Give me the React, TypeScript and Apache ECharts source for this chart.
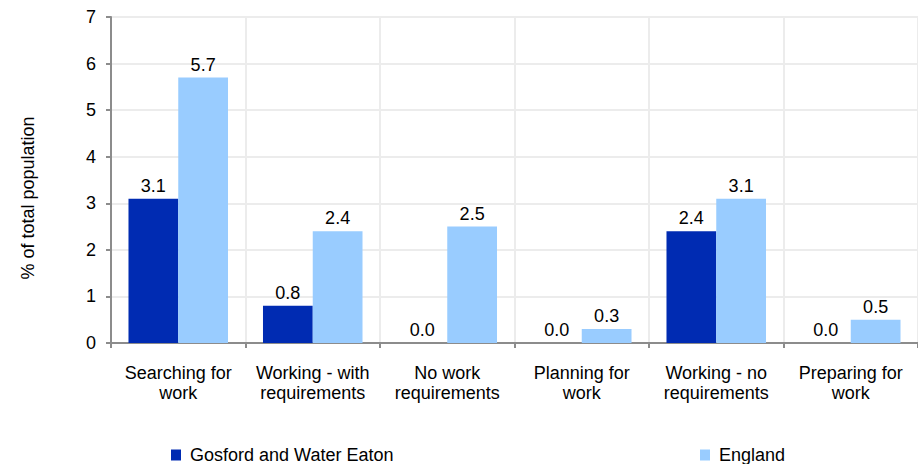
import React, { useEffect, useRef } from "react";
import * as echarts from "echarts";

const categories = [
  "Searching for\nwork",
  "Working - with\nrequirements",
  "No work\nrequirements",
  "Planning for\nwork",
  "Working - no\nrequirements",
  "Preparing for\nwork",
];
const gosford = [3.1, 0.8, 0.0, 0.0, 2.4, 0.0];
const england = [5.7, 2.4, 2.5, 0.3, 3.1, 0.5];
const seriesNames = ["Gosford and Water Eaton", "England"];
const yTicks = [0, 1, 2, 3, 4, 5, 6, 7];

const FONT = "Liberation Sans, Arial, sans-serif";
const FS = 18;

export default function App() {
  const ref = useRef<HTMLDivElement>(null);
  useEffect(() => {
    if (!ref.current) return;
    const chart = echarts.init(ref.current, undefined, { renderer: "svg" });
    const labelCfg = {
      show: true,
      position: "top",
      distance: 4,
      fontSize: FS,
      color: "#000",
      fontFamily: FONT,
      formatter: (p: any) => Number(p.value).toFixed(1),
    };
    const legendText = {
      fontSize: FS,
      color: "#000",
      fontFamily: FONT,
      padding: [0, 0, 0, 4],
    };
    chart.setOption({
      animation: false,
      textStyle: { fontFamily: FONT },
      grid: { left: 111, top: 17, width: 814, height: 326, containLabel: false },
      legend: [
        {
          data: [seriesNames[0]],
          left: 171,
          top: 446,
          padding: 0,
          itemWidth: 10,
          itemHeight: 11,
          textStyle: legendText,
          icon: "rect",
        },
        {
          data: [seriesNames[1]],
          left: 700,
          top: 446,
          padding: 0,
          itemWidth: 10,
          itemHeight: 11,
          textStyle: legendText,
          icon: "rect",
        },
      ],
      xAxis: {
        type: "category",
        data: categories,
        axisLine: { lineStyle: { color: "#8c8c8c", width: 2 } },
        axisTick: { show: true, length: 5, lineStyle: { color: "#8c8c8c", width: 2 } },
        splitLine: { show: true, lineStyle: { color: "#ececec", width: 2 } },
        axisLabel: {
          fontSize: FS,
          color: "#000",
          fontFamily: FONT,
          lineHeight: 20,
          margin: 20,
          interval: 0,
        },
      },
      yAxis: {
        type: "value",
        min: yTicks[0],
        max: yTicks[yTicks.length - 1],
        interval: 1,
        name: "% of total population",
        nameLocation: "middle",
        nameGap: 74,
        nameRotate: 90,
        nameTextStyle: {
          fontSize: FS,
          color: "#000",
          fontFamily: FONT,
          padding: [0, 36, 0, 0],
        },
        axisLine: { show: true, lineStyle: { color: "#8c8c8c", width: 2 } },
        axisTick: { show: true, length: 5, lineStyle: { color: "#8c8c8c", width: 2 } },
        splitLine: { show: true, lineStyle: { color: "#ececec", width: 2 } },
        axisLabel: { fontSize: FS, color: "#000", fontFamily: FONT, margin: 15 },
      },
      series: [
        {
          name: seriesNames[0],
          type: "bar",
          data: gosford,
          itemStyle: { color: "#002BB2" },
          barGap: "0%",
          barCategoryGap: "26%",
          label: labelCfg,
        },
        {
          name: seriesNames[1],
          type: "bar",
          data: england,
          itemStyle: { color: "#99CCFF" },
          barGap: "0%",
          barCategoryGap: "26%",
          label: labelCfg,
        },
      ],
    });
    return () => chart.dispose();
  }, []);
  return (
    <div
      ref={ref}
      style={{ position: "absolute", left: 0, top: 0, width: 918, height: 464 }}
    />
  );
}
